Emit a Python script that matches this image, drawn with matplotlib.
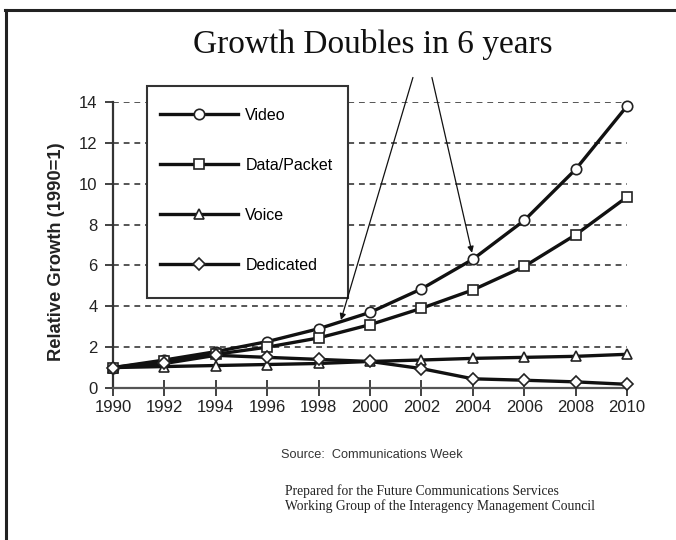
import matplotlib
matplotlib.use("Agg")
import matplotlib.pyplot as plt
from matplotlib.lines import Line2D
from matplotlib.patches import Rectangle

years = [1990, 1992, 1994, 1996, 1998, 2000, 2002, 2004, 2006, 2008, 2010]
video = [1.0, 1.37, 1.78, 2.27, 2.9, 3.7, 4.85, 6.3, 8.2, 10.7, 13.8]
data_packet = [1.0, 1.3, 1.65, 2.0, 2.45, 3.1, 3.9, 4.8, 5.95, 7.5, 9.35]
voice = [1.0, 1.05, 1.1, 1.15, 1.2, 1.3, 1.37, 1.45, 1.5, 1.55, 1.65]
dedicated = [1.0, 1.2, 1.6, 1.5, 1.4, 1.3, 0.95, 0.45, 0.38, 0.3, 0.18]
series_names = ["Video", "Data/Packet", "Voice", "Dedicated"]
series_markers = ["o", "s", "^", "D"]
x_ticks = [1990, 1992, 1994, 1996, 1998, 2000, 2002, 2004, 2006, 2008, 2010]
y_ticks = [0, 2, 4, 6, 8, 10, 12, 14]

NARROW = ["Liberation Sans Narrow", "Liberation Sans", "DejaVu Sans"]
SERIF = ["Liberation Serif", "DejaVu Serif"]

fig = plt.figure(figsize=(6.76, 5.40), dpi=100)
fig.patch.set_facecolor("white")

# outer frame (top and left edges visible)
fig.add_artist(Line2D([5/676, 1.0], [1 - 10/540, 1 - 10/540], transform=fig.transFigure,
                      color="#222222", lw=2.2))
fig.add_artist(Line2D([6/676, 6/676], [0.0, 1 - 10/540], transform=fig.transFigure,
                      color="#222222", lw=2.2))

ax = fig.add_axes([113/676, 1 - 388/540, (627 - 113)/676, (388 - 102)/540])
ax.set_xlim(1990, 2010)
ax.set_ylim(0, 14)

for yv in y_ticks[1:]:
    ax.axhline(yv, color="#555555", lw=1.4, ls=(0, (3, 2.5)), zorder=1)

all_series = [video, data_packet, voice, dedicated]
handles = []
for vals, name, mk in zip(all_series, series_names, series_markers):
    ms = 7.5 if mk != "D" else 6.5
    h, = ax.plot(years, vals, color="#111111", lw=2.4, marker=mk, markersize=ms,
                 markerfacecolor="white", markeredgecolor="#222222", markeredgewidth=1.2,
                 clip_on=False, zorder=3, label=name)
    handles.append(h)

for s in ["top", "right"]:
    ax.spines[s].set_visible(False)
ax.spines["left"].set_color("#333333")
ax.spines["left"].set_linewidth(1.6)
ax.spines["bottom"].set_color("#555555")
ax.spines["bottom"].set_linewidth(1.6)

ax.set_xticks(x_ticks)
ax.set_yticks(y_ticks)
ax.tick_params(axis="x", direction="inout", length=12, width=1.3, color="#333333",
               pad=3, labelcolor="#222222")
ax.tick_params(axis="y", direction="out", length=6, width=1.3, color="#333333",
               pad=5, labelcolor="#222222")
for lab in ax.get_xticklabels() + ax.get_yticklabels():
    lab.set_family(NARROW)
    lab.set_fontsize(12)

ax.set_ylabel("Relative Growth (1990=1)", family=["Liberation Sans", "DejaVu Sans"],
              fontsize=13.2, fontweight="bold", color="#222222")
ax.yaxis.set_label_coords((65 - 113) / 514, (388 - 252) / 286)

# legend box
box = Rectangle((147/676, 1 - 298/540), (348 - 147)/676, (298 - 86)/540,
                transform=fig.transFigure, facecolor="white", edgecolor="#333333",
                linewidth=1.5, clip_on=False, zorder=2)
ax.add_patch(box)

leg = ax.legend(handles=handles, loc="upper left",
                bbox_to_anchor=(160/676, 1 - 107.5/540), bbox_transform=fig.transFigure,
                numpoints=1, handlelength=4.9, handletextpad=0.44, borderpad=0,
                labelspacing=2.2, frameon=False,
                prop={"family": NARROW, "size": 11.5}, borderaxespad=0)
leg.set_zorder(5)

# title and arrows
fig.text(373/676, 1 - 45/540, "Growth Doubles in 6 years", family=SERIF, fontsize=24,
         ha="center", va="center", color="#111111")
ax.annotate("", xy=(1998.87, 3.33), xytext=(2001.67, 15.2), xycoords="data",
            textcoords="data", annotation_clip=False,
            arrowprops=dict(arrowstyle="-|>", color="#111111", lw=0.9,
                            mutation_scale=9, shrinkA=0, shrinkB=0), zorder=6)
ax.annotate("", xy=(2003.97, 6.62), xytext=(2002.41, 15.2), xycoords="data",
            textcoords="data", annotation_clip=False,
            arrowprops=dict(arrowstyle="-|>", color="#111111", lw=0.9,
                            mutation_scale=9, shrinkA=0, shrinkB=0), zorder=6)

fig.text(372/676, 1 - 455/540, "Source:  Communications Week", family=NARROW,
         fontsize=9.2, ha="center", va="center", color="#333333")
fig.text(285/676, 1 - 491/540, "Prepared for the Future Communications Services",
         family=SERIF, fontsize=9.8, ha="left", va="center", color="#222222")
fig.text(285/676, 1 - 506/540, "Working Group of the Interagency Management Council",
         family=SERIF, fontsize=9.8, ha="left", va="center", color="#222222")

fig.savefig("out.png", dpi=100, facecolor="white")
